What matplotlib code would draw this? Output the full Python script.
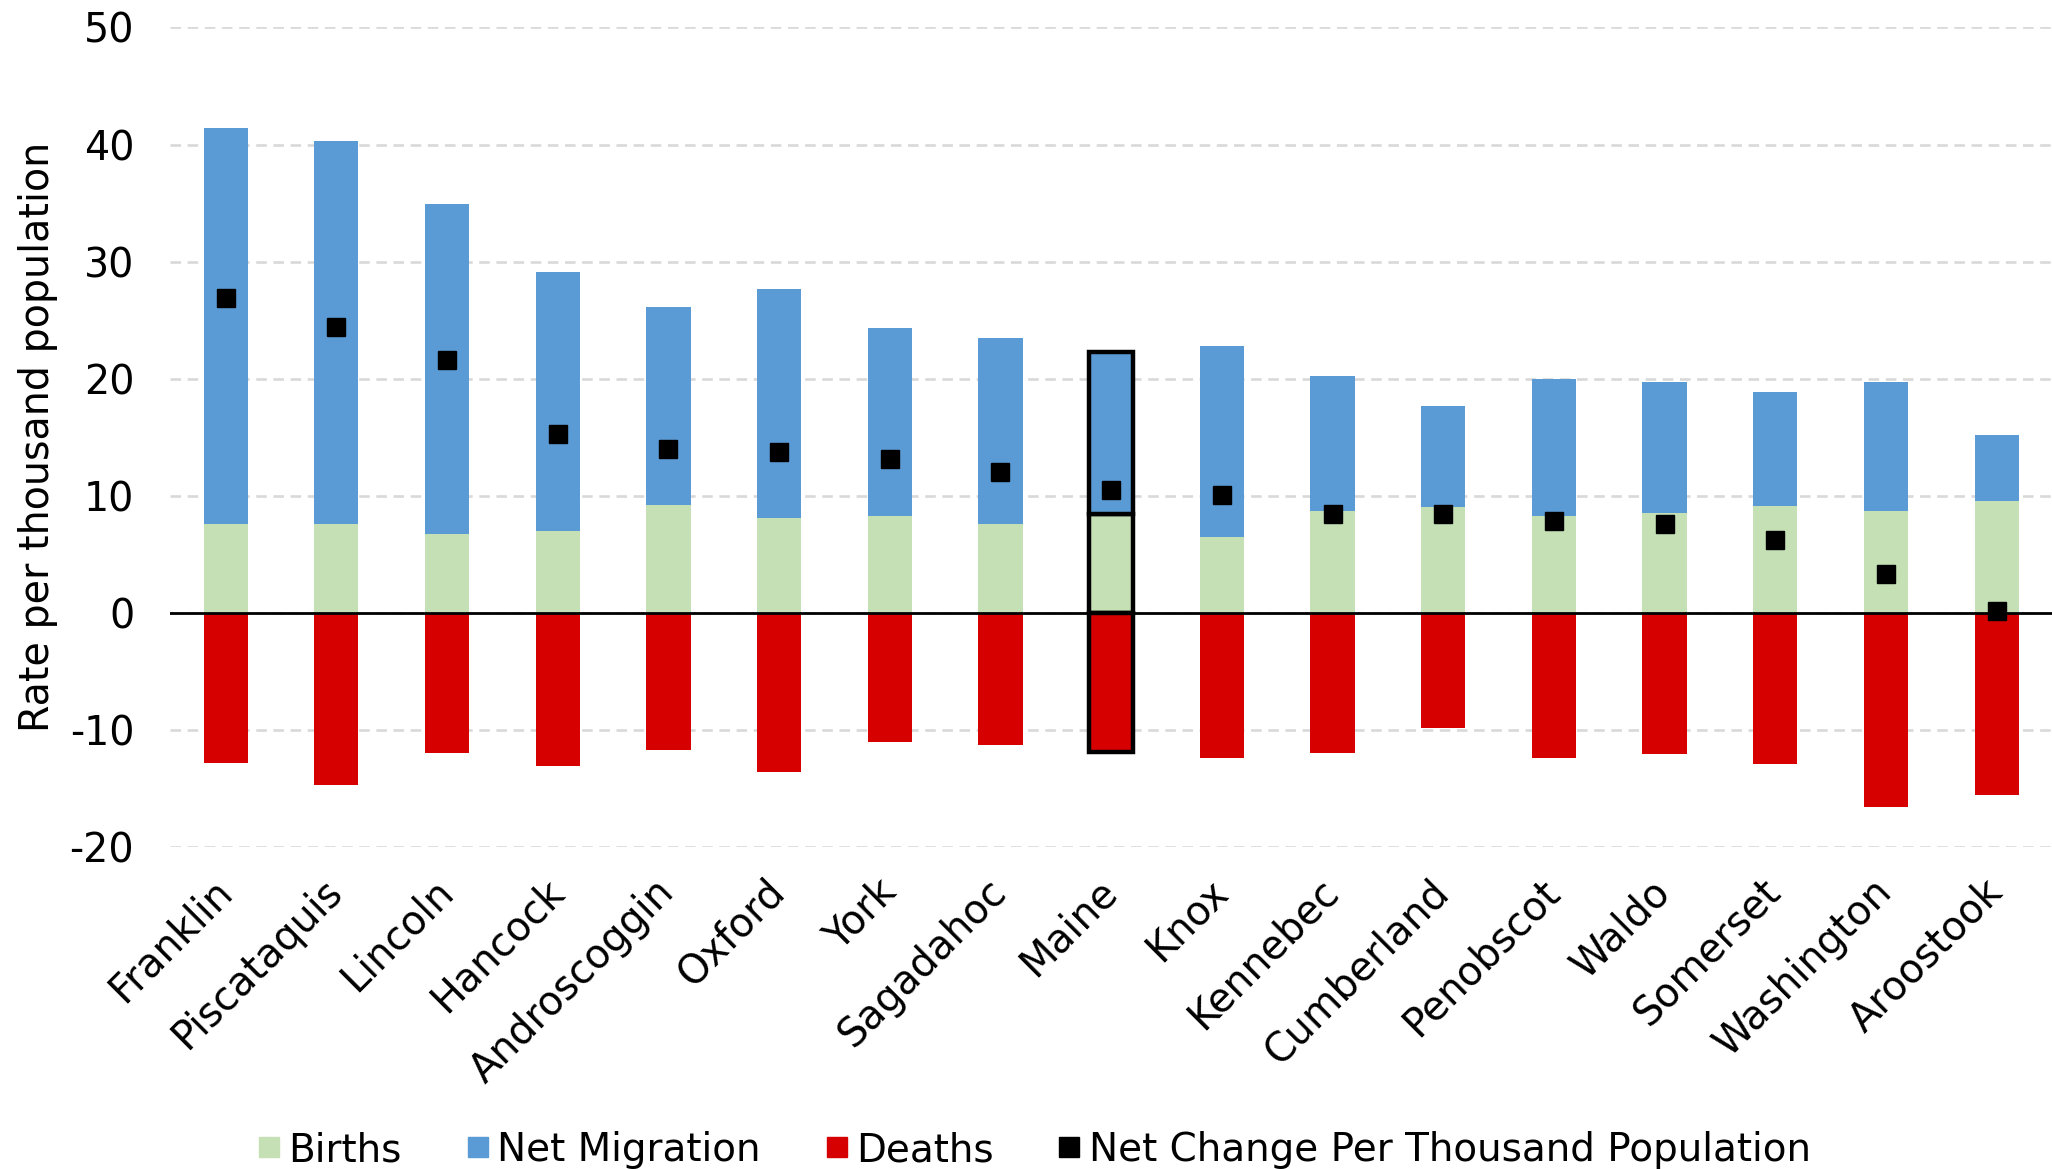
import numpy as np
import matplotlib
matplotlib.use("Agg")
import matplotlib.pyplot as plt
from matplotlib.lines import Line2D

counties = ["Franklin", "Piscataquis", "Lincoln", "Hancock", "Androscoggin", "Oxford",
            "York", "Sagadahoc", "Maine", "Knox", "Kennebec", "Cumberland",
            "Penobscot", "Waldo", "Somerset", "Washington", "Aroostook"]
births = [7.6, 7.6, 6.7, 6.95, 9.25, 8.1, 8.25, 7.6, 8.4, 6.5, 8.7, 9.0, 8.25, 8.5, 9.1, 8.7, 9.55]
migration = [33.8, 32.7, 28.2, 22.15, 16.85, 19.6, 16.05, 15.9, 13.9, 16.3, 11.5, 8.7, 11.75, 11.25, 9.8, 11.05, 5.6]
deaths = [-12.85, -14.7, -12.0, -13.1, -11.7, -13.6, -11.0, -11.3, -11.9, -12.4, -12.0, -9.8, -12.4, -12.1, -12.9, -16.6, -15.6]
net_change = [26.9, 24.4, 21.6, 15.3, 14.0, 13.7, 13.1, 12.0, 10.5, 10.1, 8.4, 8.4, 7.8, 7.6, 6.2, 3.3, 0.15]
yticks = [-20, -10, 0, 10, 20, 30, 40, 50]

c_birth = "#C5E0B4"
c_mig = "#5B9BD5"
c_death = "#D60000"

plt.rcParams['font.family'] = ['DejaVu Sans']
fs = 28.5

fig = plt.figure(figsize=(20.52, 11.69), dpi=100)
ax = fig.add_axes([0.083, 0.2755, 0.917, 0.701])

x = np.arange(len(counties))
w = 0.4
# outline only the state total
ec = ["black" if c == "Maine" else "none" for c in counties]
lw = [3.2 if c == "Maine" else 0 for c in counties]

ax.bar(x, births, w, color=c_birth, edgecolor=ec, linewidth=lw, zorder=2)
ax.bar(x, migration, w, bottom=births, color=c_mig, edgecolor=ec, linewidth=lw, zorder=2)
ax.bar(x, deaths, w, color=c_death, edgecolor=ec, linewidth=lw, zorder=2)
ax.axhline(0, color="black", lw=2.0, zorder=3)
ax.plot(x, net_change, "s", color="black", markersize=13, zorder=4)

ax.set_xlim(-0.5, len(counties) - 0.5)
ax.set_ylim(-20, 50)
ax.set_yticks(yticks)
ax.set_yticklabels([str(v) for v in yticks], fontsize=fs)
ax.yaxis.grid(True, color="#d9d9d9", lw=1.9, linestyle=(0, (4, 2.5)), zorder=0)
ax.set_axisbelow(True)
for s in ax.spines.values():
    s.set_visible(False)
ax.tick_params(axis="y", length=0, pad=26)
ax.tick_params(axis="x", length=0, pad=28)
ax.set_xticks(x)
ax.set_xticklabels(counties, fontsize=fs, rotation=45, ha="right", va="center",
                   rotation_mode="anchor")
ax.set_ylabel("Rate per thousand population", fontsize=fs, labelpad=8)

handles = [Line2D([], [], marker="s", ls="none", color=c_birth, markersize=15),
           Line2D([], [], marker="s", ls="none", color=c_mig, markersize=15),
           Line2D([], [], marker="s", ls="none", color=c_death, markersize=15),
           Line2D([], [], marker="s", ls="none", color="black", markersize=15)]
labels = ["Births", "Net Migration", "Deaths", "Net Change Per Thousand Population"]
fig.legend(handles, labels, loc="lower center", bbox_to_anchor=(0.504, -0.03), ncol=4,
           frameon=False, fontsize=28, handlelength=0.6, handletextpad=0.2,
           columnspacing=1.65)

fig.savefig("out.png", dpi=100)
